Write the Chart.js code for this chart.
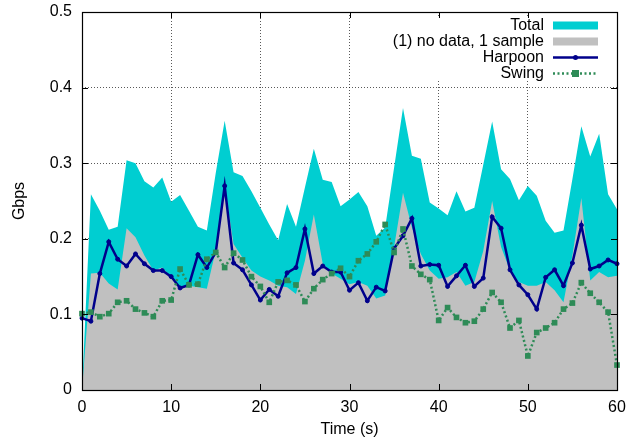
<!DOCTYPE html>
<html>
<head>
<meta charset="utf-8">
<script src="https://cdn.jsdelivr.net/npm/chart.js@4/dist/chart.umd.min.js"></script>
<style>
  html, body { margin: 0; padding: 0; background: #fff; }
</style>
</head>
<body>
<canvas id="grafico" width="628" height="443"></canvas>
<script>
// tempo (s), uma amostra por segundo
const segundos = [0, 1, 2, 3, 4, 5, 6, 7, 8, 9, 10, 11, 12, 13, 14, 15, 16, 17, 18, 19, 20,
  21, 22, 23, 24, 25, 26, 27, 28, 29, 30, 31, 32, 33, 34, 35, 36, 37, 38, 39, 40,
  41, 42, 43, 44, 45, 46, 47, 48, 49, 50, 51, 52, 53, 54, 55, 56, 57, 58, 59, 60];

const total = [0, 0.259, 0.237, 0.212, 0.216, 0.304, 0.300, 0.276, 0.268, 0.281, 0.249,
  0.258, 0.237, 0.216, 0.211, 0.287, 0.356, 0.288, 0.283, 0.263, 0.241,
  0.219, 0.198, 0.246, 0.216, 0.268, 0.319, 0.278, 0.275, 0.243, 0.252,
  0.262, 0.243, 0.204, 0.215, 0.294, 0.373, 0.310, 0.306, 0.248, 0.240,
  0.231, 0.263, 0.236, 0.241, 0.298, 0.355, 0.292, 0.279, 0.251, 0.270,
  0.257, 0.224, 0.208, 0.211, 0.279, 0.349, 0.309, 0.339, 0.259, 0.239];

const semDados = [0, 0.154, 0.155, 0.141, 0.133, 0.214, 0.202, 0.178, 0.158, 0.162, 0.149,
  0.134, 0.138, 0.136, 0.134, 0.185, 0.270, 0.193, 0.175, 0.158, 0.150,
  0.145, 0.138, 0.136, 0.127, 0.171, 0.232, 0.167, 0.154, 0.147, 0.140,
  0.143, 0.138, 0.121, 0.125, 0.189, 0.261, 0.215, 0.180, 0.158, 0.147,
  0.149, 0.156, 0.138, 0.143, 0.184, 0.250, 0.189, 0.158, 0.143, 0.138,
  0.138, 0.143, 0.132, 0.116, 0.178, 0.254, 0.145, 0.156, 0.149, 0.151];

const harpoon = [0.095, 0.091, 0.154, 0.196, 0.173, 0.164, 0.180, 0.167, 0.158, 0.158, 0.150,
  0.135, 0.139, 0.179, 0.162, 0.182, 0.270, 0.168, 0.159, 0.139, 0.119,
  0.133, 0.124, 0.155, 0.162, 0.213, 0.154, 0.164, 0.156, 0.156, 0.132,
  0.142, 0.118, 0.136, 0.131, 0.187, 0.204, 0.227, 0.164, 0.166, 0.165,
  0.137, 0.151, 0.165, 0.137, 0.148, 0.229, 0.214, 0.159, 0.139, 0.126,
  0.107, 0.149, 0.159, 0.138, 0.168, 0.218, 0.160, 0.164, 0.172, 0.167];

const swing = [0.101, 0.103, 0.097, 0.101, 0.116, 0.118, 0.107, 0.102, 0.097, 0.118, 0.119,
  0.160, 0.139, 0.140, 0.173, 0.182, 0.162, 0.181, 0.172, 0.150, 0.137,
  0.116, 0.143, 0.145, 0.139, 0.117, 0.134, 0.146, 0.154, 0.161, 0.150,
  0.171, 0.180, 0.196, 0.219, 0.182, 0.213, 0.164, 0.153, 0.146, 0.092,
  0.109, 0.096, 0.089, 0.091, 0.107, 0.129, 0.116, 0.082, 0.092, 0.045,
  0.076, 0.082, 0.089, 0.107, 0.115, 0.142, 0.128, 0.116, 0.103, 0.033];

const rotulosX = ['0', '10', '20', '30', '40', '50', '60'];
const rotulosY = ['0', '0.1', '0.2', '0.3', '0.4', '0.5'];

const fonte = "'Liberation Sans', Arial, Helvetica, sans-serif";

function pares(valores) {
  return valores.map((v, i) => ({ x: segundos[i], y: v }));
}

// tamanho fixo do eixo, sem a folga extra que os rótulos das pontas pedem
function fixarEixo(s, lado, tamanho) {
  s[lado] = tamanho;
  s.paddingTop = 0;
  s.paddingBottom = 0;
  s.paddingLeft = 0;
  s.paddingRight = 0;
}

// moldura, marcas internas e legenda no estilo gnuplot
const estiloGnuplot = {
  id: 'estiloGnuplot',
  beforeDatasetsDraw(chart) {
    const ctx = chart.ctx;
    const area = chart.chartArea;
    ctx.save();
    ctx.font = '16px ' + fonte;
    const largura = Math.max(...chart.data.datasets.map(d => ctx.measureText(d.label).width));
    const xt = area.right - 73;
    ctx.fillStyle = '#fff';
    ctx.fillRect(xt - largura - 5, area.top + 5, largura + 73, 64);
    ctx.restore();
  },
  afterDatasetsDraw(chart) {
    const ctx = chart.ctx;
    const area = chart.chartArea;
    const sx = chart.scales.x;
    const sy = chart.scales.y;
    ctx.save();

    // marcas dos eixos (para dentro, espelhadas)
    ctx.strokeStyle = '#000';
    ctx.lineWidth = 1;
    ctx.beginPath();
    sx.ticks.forEach(t => {
      const px = Math.round(sx.getPixelForValue(t.value)) + 0.5;
      ctx.moveTo(px, area.bottom); ctx.lineTo(px, area.bottom - 6);
      ctx.moveTo(px, area.top); ctx.lineTo(px, area.top + 6);
    });
    sy.ticks.forEach(t => {
      const py = Math.round(sy.getPixelForValue(t.value)) + 0.5;
      ctx.moveTo(area.left, py); ctx.lineTo(area.left + 6, py);
      ctx.moveTo(area.right, py); ctx.lineTo(area.right - 6, py);
    });
    ctx.stroke();

    // moldura
    ctx.lineWidth = 1.2;
    ctx.strokeRect(Math.round(area.left) + 0.5, Math.round(area.top) + 0.5,
      Math.round(area.right - area.left), Math.round(area.bottom - area.top));

    // legenda
    ctx.font = '16px ' + fonte;
    ctx.textAlign = 'right';
    ctx.textBaseline = 'middle';
    const xt = area.right - 73;
    const x1 = area.right - 64;
    const x2 = area.right - 19;
    chart.data.datasets.forEach((ds, i) => {
      const y = area.top + 13.5 + i * 16;
      ctx.fillStyle = '#000';
      ctx.fillText(ds.label, xt, y);
      if (ds.fill) {
        ctx.fillStyle = ds.backgroundColor;
        ctx.fillRect(x1, y - 4, x2 - x1, 8);
      } else {
        ctx.strokeStyle = ds.borderColor;
        ctx.lineWidth = ds.borderWidth;
        ctx.setLineDash(ds.borderDash || []);
        ctx.beginPath();
        ctx.moveTo(x1, y); ctx.lineTo(x2, y);
        ctx.stroke();
        ctx.setLineDash([]);
        const xm = (x1 + x2) / 2;
        ctx.fillStyle = ds.borderColor;
        if (ds.pointStyle === 'rect') {
          ctx.fillRect(xm - 3.5, y - 3.5, 7, 7);
        } else {
          ctx.beginPath();
          ctx.arc(xm, y, 2.5, 0, Math.PI * 2);
          ctx.fill();
        }
      }
    });
    ctx.restore();
  }
};

const ctx = document.getElementById('grafico').getContext('2d');

const grafico = new Chart(ctx, {
  type: 'line',
  data: {
    datasets: [{
      label: 'Total',
      data: pares(total),
      fill: 'origin',
      backgroundColor: '#00ced1',
      borderColor: 'rgba(0,0,0,0)',
      borderWidth: 0,
      pointRadius: 0,
      order: 4
    }, {
      label: '(1) no data, 1 sample',
      data: pares(semDados),
      fill: 'origin',
      backgroundColor: '#c0c0c0',
      borderColor: 'rgba(0,0,0,0)',
      borderWidth: 0,
      pointRadius: 0,
      order: 3
    }, {
      label: 'Harpoon',
      data: pares(harpoon),
      fill: false,
      borderColor: '#00008b',
      backgroundColor: '#00008b',
      borderWidth: 2.5,
      pointStyle: 'circle',
      pointRadius: 2,
      pointBorderWidth: 1,
      clip: false,
      order: 2
    }, {
      label: 'Swing',
      data: pares(swing),
      fill: false,
      borderColor: '#2e8b57',
      backgroundColor: '#2e8b57',
      borderWidth: 2.5,
      borderDash: [2, 2.5],
      pointStyle: 'rect',
      pointRadius: 4,
      pointBorderWidth: 0,
      clip: false,
      order: 1
    }]
  },
  options: {
    responsive: false,
    animation: false,
    devicePixelRatio: 1,
    events: [],
    layout: { padding: { top: 12, right: 11, left: 0, bottom: 0 } },
    elements: { line: { tension: 0 } },
    plugins: {
      legend: { display: false },
      tooltip: { enabled: false }
    },
    scales: {
      x: {
        type: 'linear',
        min: 0,
        max: 60,
        afterFit: s => fixarEixo(s, 'height', 53),
        grid: { color: 'rgba(0,0,0,0.65)', lineWidth: 1, drawTicks: false },
        border: { display: false, dash: [1, 2] },
        ticks: {
          stepSize: 10,
          padding: 8,
          color: '#000',
          font: { family: fonte, size: 16 },
          callback: (v, i) => rotulosX[i]
        },
        title: {
          display: true,
          text: 'Time (s)',
          color: '#000',
          font: { family: fonte, size: 16 },
          padding: { top: 0, bottom: 4 }
        }
      },
      y: {
        min: 0,
        max: 0.5,
        afterFit: s => fixarEixo(s, 'width', 82),
        grid: { color: 'rgba(0,0,0,0.65)', lineWidth: 1, drawTicks: false },
        border: { display: false, dash: [1, 2] },
        ticks: {
          stepSize: 0.1,
          padding: 10,
          color: '#000',
          font: { family: fonte, size: 16 },
          callback: (v, i) => rotulosY[i]
        },
        title: {
          display: true,
          text: 'Gbps',
          color: '#000',
          font: { family: fonte, size: 16 },
          padding: { top: 10, bottom: 0 }
        }
      }
    }
  },
  plugins: [estiloGnuplot]
});
</script>
</body>
</html>
